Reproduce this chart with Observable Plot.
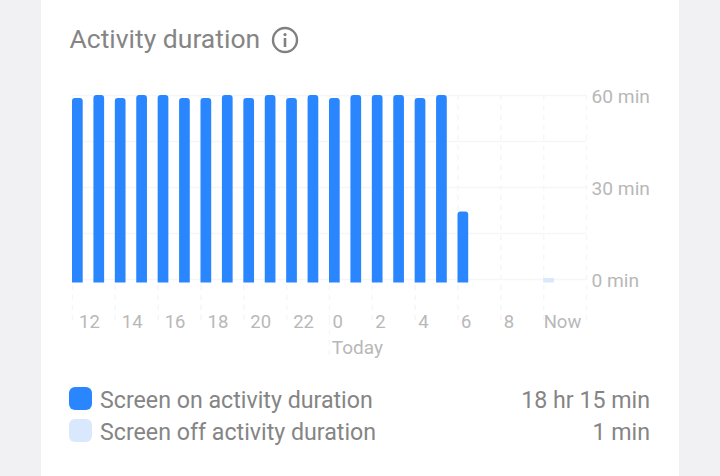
<!DOCTYPE html>
<html>
<head>
<meta charset="utf-8">
<script src="https://cdn.jsdelivr.net/npm/d3@7"></script>
<script src="https://cdn.jsdelivr.net/npm/@observablehq/plot@0.6"></script>
<style>
html,body{margin:0;padding:0;width:720px;height:476px;overflow:hidden;background:#f1f1f4;font-family:Roboto,sans-serif}
#card{position:absolute;left:41px;top:0;width:638px;height:476px;background:#fff}
#title{position:absolute;left:28.5px;top:24px;font-size:26.5px;line-height:30px;color:#858585;white-space:nowrap}
#icon{position:absolute;left:229px;top:24.5px}
#chart{position:absolute;left:0;top:70px}
#chart svg{display:block;background:transparent}
.row{position:absolute;left:28px;width:581px;height:23px;font-size:23.2px;line-height:26px;color:#858585}
.sw{position:absolute;left:0;top:0;width:23px;height:23px;border-radius:6px}
.lab{position:absolute;left:31px;top:0;white-space:nowrap}
.val{position:absolute;right:0;top:0;white-space:nowrap}
</style>
</head>
<body>
<div id="card">
  <div id="title">Activity duration</div>
  <svg id="icon" width="30" height="30" viewBox="0 0 30 30">
    <circle cx="15" cy="15" r="12" fill="none" stroke="#808080" stroke-width="2.4"/>
    <rect x="13.7" y="13" width="2.6" height="9" fill="#808080"/>
    <circle cx="15" cy="9.6" r="1.6" fill="#808080"/>
  </svg>
  <div id="chart"></div>
  <div id="legend"></div>
</div>
<script>
const onValues = [59,60,59,60,60,59,59,60,59,60,59,60,59,60,60,60,59,60,22];
const offSlot = [22];
const offValues = [0.3];
const gridHours = [0,2,4,6,8,10,12,14,16,18,20,22,24];
const hourLabels = ["12","14","16","18","20","22","0","2","4","6","8","Now"];
const yTicks = [0,30,60];
const gridMinutes = [0,15,30,45,60];
const legendNames = ["Screen on activity duration","Screen off activity duration"];
const legendValues = ["18 hr 15 min","1 min"];
const blue = "#2a86ff", pale = "#d9e8fc";
const gridColor = "#f5f6f7";

const onBars = onValues.map((v,i)=>({start:i,end:i+0.5,v}));
const offBars = offValues.map((v,i)=>({start:offSlot[i],end:offSlot[i]+0.5,v}));
const labelAt = h => hourLabels[h/2];
const twoDigit = [0,2,4,6,8,10];
const oneDigit = [12,14,16,18,20];
const nowTick = [22];

const plot = Plot.plot({
  width:638, height:300,
  marginLeft:31, marginRight:93, marginTop:25, marginBottom:91,
  x:{domain:[0,24], axis:null},
  y:{domain:[0,60], axis:null},
  marks:[
    Plot.ruleY(gridMinutes,{stroke:gridColor,strokeWidth:1.5}),
    Plot.ruleX(gridHours,{y1:60,y2:-13.4,stroke:gridColor,strokeWidth:1.5,strokeDasharray:"5 5"}),
    Plot.ruleX([12],{y1:-13.4,y2:-25.8,stroke:gridColor,strokeWidth:1.5,strokeDasharray:"5 5"}),
    Plot.rect(onBars,{x1:"start",x2:"end",y1:0,y2:"v",fill:blue,insetBottom:-3.5,ry2:3}),
    Plot.rect(offBars,{x1:"start",x2:"end",y1:0,y2:"v",fill:pale,insetBottom:-3.5}),
    Plot.axisY({anchor:"right",ticks:yTicks,tickSize:0,tickPadding:5,tickFormat:d=>d+" min",fontSize:19.2,fill:"#b8b8b8",textAnchor:"start",label:null,dy:1}),
    Plot.axisX({ticks:twoDigit,tickSize:0,tickFormat:labelAt,fontSize:18.5,fill:"#b8b8b8",textAnchor:"start",dx:6.5,dy:26,label:null}),
    Plot.axisX({ticks:oneDigit,tickSize:0,tickFormat:labelAt,fontSize:18.5,fill:"#b8b8b8",textAnchor:"start",dx:3,dy:26,label:null}),
    Plot.axisX({ticks:nowTick,tickSize:0,tickFormat:labelAt,fontSize:18.5,fill:"#b8b8b8",textAnchor:"start",dx:0,dy:26,label:null}),
    Plot.text(["Today"],{x:()=>13.3,y:()=>-22.2,fontSize:19,fill:"#b8b8b8"})
  ],
  style:{fontFamily:"Roboto,sans-serif",background:"transparent",overflow:"visible"}
});
document.getElementById("chart").append(plot);

const legend = document.getElementById("legend");
legendNames.forEach((n,i)=>{
  const r=document.createElement("div");r.className="row";r.style.top=(387+i*32)+"px";
  r.innerHTML=`<div class="sw" style="background:${i?pale:blue}"></div><div class="lab">${n}</div><div class="val">${legendValues[i]}</div>`;
  legend.append(r);
});
</script>
</body>
</html>
